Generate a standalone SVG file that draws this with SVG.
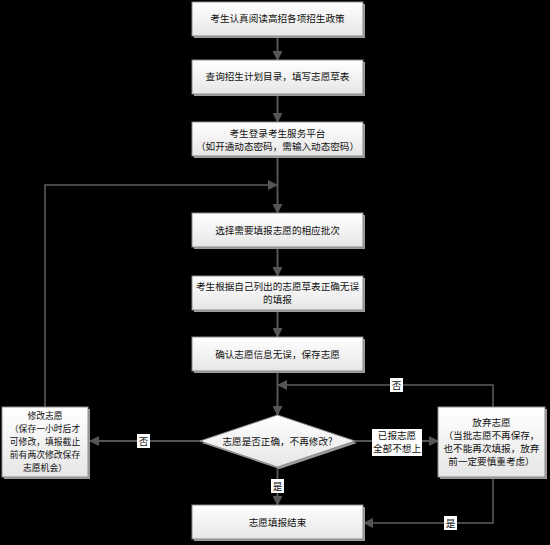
<svg xmlns="http://www.w3.org/2000/svg" width="550" height="545" viewBox="0 0 550 545">
<defs>
<linearGradient id="g" x1="0" y1="0" x2="0" y2="1">
<stop offset="0" stop-color="#ffffff"/>
<stop offset="1" stop-color="#e6e6e6"/>
</linearGradient>
<marker id="ah" markerWidth="10" markerHeight="10" refX="9" refY="5" orient="auto" markerUnits="userSpaceOnUse">
<path d="M0,0 L10,5 L0,10 Z" fill="#555"/>
</marker>
<style>
.box{fill:url(#g);stroke:#8c8c8c;stroke-width:1}
.sh{fill:#9c9c9c}
.t{font-family:"Noto Sans CJK SC","Liberation Sans",sans-serif;font-size:9.6px;fill:#111;text-anchor:middle}
.s{font-size:8.8px}
.c{fill:none;stroke:#555;stroke-width:2}
.c2{fill:none;stroke:#5e5e5e;stroke-width:1.5}
.lb{fill:#fff}
</style>
</defs>
<rect width="550" height="545" fill="#000"/>

<g id="connectors">
<line class="c" x1="277.5" y1="37" x2="277.5" y2="60" marker-end="url(#ah)"/>
<line class="c" x1="277.5" y1="96" x2="277.5" y2="122" marker-end="url(#ah)"/>
<line class="c" x1="277.5" y1="158" x2="277.5" y2="213" marker-end="url(#ah)"/>
<line class="c" x1="277.5" y1="249" x2="277.5" y2="276" marker-end="url(#ah)"/>
<line class="c" x1="277.5" y1="311" x2="277.5" y2="337" marker-end="url(#ah)"/>
<line class="c" x1="277.5" y1="373" x2="277.5" y2="415" marker-end="url(#ah)"/>
<line class="c" x1="277.5" y1="468" x2="277.5" y2="505" marker-end="url(#ah)"/>
<line class="c" x1="202" y1="441" x2="90" y2="441" marker-end="url(#ah)"/>
<line class="c" x1="355" y1="441" x2="438" y2="441" marker-end="url(#ah)"/>
<polyline class="c2" points="45,407 45,185 277,185" marker-end="url(#ah)"/>
<polyline class="c2" points="493,407 493,385 278,385" marker-end="url(#ah)"/>
<polyline class="c2" points="493,478 493,523 364,523" marker-end="url(#ah)"/>
<rect class="lb" x="271" y="479" width="13" height="14"/>
<text class="t" x="277.5" y="490">是</text>
<rect class="lb" x="137" y="434" width="13" height="14"/>
<text class="t" x="143.5" y="445">否</text>
<rect class="lb" x="390" y="378" width="13" height="14"/>
<text class="t" x="396.5" y="389">否</text>
<rect class="lb" x="444" y="516" width="13" height="14"/>
<text class="t" x="450.5" y="527">是</text>
<rect class="lb" x="372" y="429" width="50" height="27"/>
<text class="t" x="397" y="439">已报志愿</text>
<text class="t" x="397" y="452">全部不想上</text>
</g>

<g id="n1">
<rect class="sh" x="194" y="4" width="171" height="34"/>
<rect class="box" x="192" y="2" width="171" height="34"/>
<text class="t" x="277.5" y="22">考生认真阅读高招各项招生政策</text>
</g>
<g id="n2">
<rect class="sh" x="194" y="62" width="171" height="34"/>
<rect class="box" x="192" y="60" width="171" height="34"/>
<text class="t" x="277.5" y="80">查询招生计划目录，填写志愿草表</text>
</g>
<g id="n3">
<rect class="sh" x="194" y="124" width="171" height="34"/>
<rect class="box" x="192" y="122" width="171" height="34"/>
<text class="t" x="277.5" y="137">考生登录考生服务平台</text>
<text class="t" x="277.5" y="150">（如开通动态密码，需输入动态密码）</text>
</g>
<g id="n4">
<rect class="sh" x="194" y="215" width="171" height="34"/>
<rect class="box" x="192" y="213" width="171" height="34"/>
<text class="t" x="277.5" y="234">选择需要填报志愿的相应批次</text>
</g>
<g id="n5">
<rect class="sh" x="194" y="278" width="171" height="34"/>
<rect class="box" x="192" y="276" width="171" height="34"/>
<text class="t" x="277.5" y="290">考生根据自己列出的志愿草表正确无误</text>
<text class="t" x="277.5" y="303">的填报</text>
</g>
<g id="n6">
<rect class="sh" x="194" y="339" width="171" height="34"/>
<rect class="box" x="192" y="337" width="171" height="34"/>
<text class="t" x="277.5" y="358">确认志愿信息无误，保存志愿</text>
</g>
<g id="n7">
<polygon class="sh" points="279.5,417 357,443 279.5,469 202,443"/>
<polygon class="box" points="277.5,415 355,441 277.5,467 200,441"/>
<text class="t" x="277.5" y="445">志愿是否正确，不再修改?</text>
</g>
<g id="n8">
<rect class="sh" x="4" y="409" width="86" height="70"/>
<rect class="box" x="2" y="407" width="86" height="70"/>
<text class="t s" x="45" y="419">修改志愿</text>
<text class="t s" x="45" y="432">（保存一小时后才</text>
<text class="t s" x="45" y="445">可修改，填报截止</text>
<text class="t s" x="45" y="458">前有两次修改保存</text>
<text class="t s" x="45" y="471">志愿机会）</text>
</g>
<g id="n9">
<rect class="sh" x="440" y="409" width="107" height="70"/>
<rect class="box" x="438" y="407" width="107" height="70"/>
<text class="t" x="491.5" y="426">放弃志愿</text>
<text class="t" x="491.5" y="439">（当批志愿不再保存，</text>
<text class="t" x="491.5" y="452">也不能再次填报，放弃</text>
<text class="t" x="491.5" y="465">前一定要慎重考虑）</text>
</g>
<g id="n10">
<rect class="sh" x="194" y="507" width="171" height="34"/>
<rect class="box" x="192" y="505" width="171" height="34"/>
<text class="t" x="277.5" y="526">志愿填报结束</text>
</g>
</svg>
